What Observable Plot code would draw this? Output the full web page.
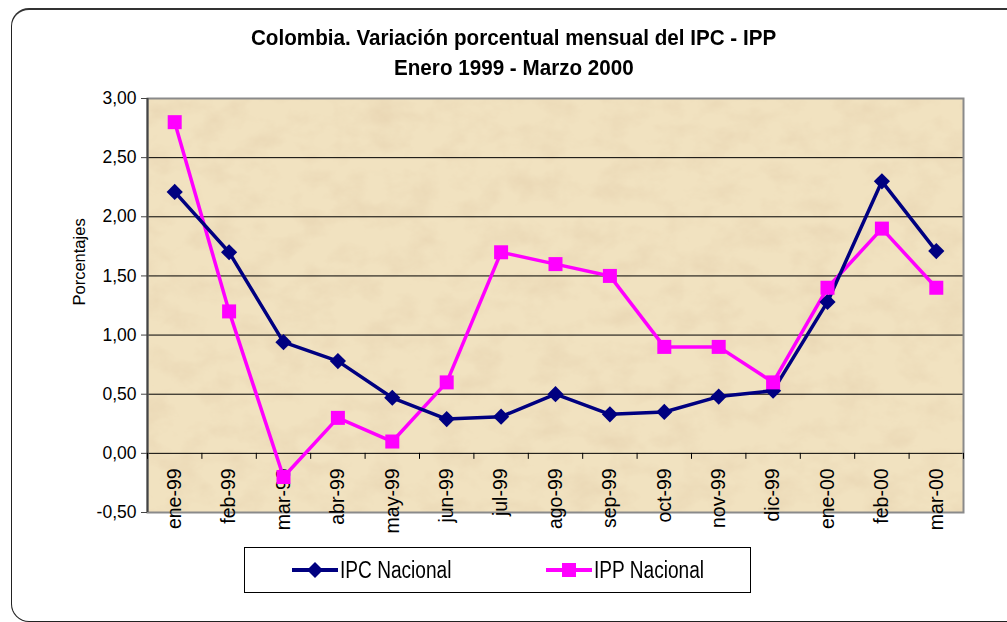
<!DOCTYPE html>
<html><head><meta charset="utf-8">
<script src="https://cdn.jsdelivr.net/npm/d3@7"></script>
<script src="https://cdn.jsdelivr.net/npm/@observablehq/plot@0.6"></script>
<style>
body{margin:0;background:#fff;font-family:"Liberation Sans",Arial,sans-serif;}
#wrap{position:relative;width:1007px;height:622px;overflow:hidden;background:#fff;}
#border{position:absolute;left:11px;top:8px;width:1010px;height:611px;border:1px solid #222;border-top:2px solid #333;border-radius:18px;}
.title{position:absolute;left:0;width:1027px;text-align:center;font-weight:bold;font-size:21.5px;color:#000;line-height:22px;}
.title span{display:inline-block;transform:scaleX(0.96);}
#chart{position:absolute;left:0;top:0;}
#legend{position:absolute;left:244px;top:547px;width:505px;height:44px;border:1px solid #000;background:#fff;font-size:23px;}
.item{position:absolute;top:0;height:44px;display:flex;align-items:center;white-space:nowrap;}
.item span{display:inline-block;transform:scaleX(0.83);transform-origin:left center;}
.item svg{margin-right:2px;}
</style></head>
<body>
<div id="wrap">
  <div id="border"></div>
  <div class="title" style="top:27px"><span>Colombia. Variación porcentual mensual del IPC - IPP</span></div>
  <div class="title" style="top:57px"><span>Enero 1999 - Marzo 2000</span></div>
  <div id="chart"></div>
  <div id="legend">
    <div class="item" style="left:47px"><svg width="46" height="20"><line x1="0" x2="46" y1="10" y2="10" stroke="#000080" stroke-width="4"/><path d="M23,2L31,10L23,18L15,10Z" fill="#000080"/></svg><span>IPC Nacional</span></div>
    <div class="item" style="left:301px"><svg width="46" height="20"><line x1="0" x2="46" y1="10" y2="10" stroke="#ff00ff" stroke-width="4"/><rect x="16" y="3" width="14" height="14" fill="#ff00ff"/></svg><span>IPP Nacional</span></div>
  </div>
</div>
<script>
const months = ["ene-99","feb-99","mar-99","abr-99","may-99","jun-99","jul-99","ago-99","sep-99","oct-99","nov-99","dic-99","ene-00","feb-00","mar-00"];
const ipc = [2.21,1.70,0.94,0.78,0.47,0.29,0.31,0.50,0.33,0.35,0.48,0.53,1.28,2.30,1.71];
const ipp = [2.80,1.20,-0.20,0.30,0.10,0.60,1.70,1.60,1.50,0.90,0.90,0.60,1.40,1.90,1.40];
const yTicks = [-0.5,0,0.5,1,1.5,2,2.5,3];

const ipcData = months.map((m,i)=>({i, m, v: ipc[i]}));
const ippData = months.map((m,i)=>({i, m, v: ipp[i]}));
const bounds = d3.range(-0.5, months.length, 1);
const fmt = d => d.toFixed(2).replace(".", ",");

const chart = Plot.plot({
  width: 1007, height: 540,
  marginLeft: 147, marginRight: 44, marginTop: 98, marginBottom: 28,
  style: {fontFamily: "Liberation Sans, Arial, sans-serif", background: "transparent", color: "#000"},
  x: {domain: [-0.5, months.length - 0.5], axis: null},
  y: {domain: [-0.5, 3], ticks: yTicks, tickFormat: fmt, label: null, axis: null},
  marks: [
    Plot.frame({fill: "#f1e2c0", stroke: null}),
    Plot.frame({fill: "#d2b07a", stroke: null}),
    Plot.ruleY(yTicks.filter(t => t > -0.5 && t < 3), {stroke: "#000", strokeWidth: 1}),
    Plot.frame({stroke: "#8a8a8a", strokeWidth: 2}),
    Plot.ruleX([-0.5], {stroke: "#444", strokeWidth: 2}),
    Plot.ruleX(bounds, {x: d => d, y1: 0, y2: 0, insetBottom: -6, stroke: "#000"}),
    Plot.axisY({ticks: yTicks, tickFormat: fmt, tickSize: 6, tickPadding: 5, fontSize: 17.5, stroke: "#444", label: null}),
    Plot.text(["Porcentajes"], {frameAnchor: "left", rotate: -90, dx: -68, fontSize: 16.5}),
    Plot.text(months, {x: (d,i) => i, y: () => 0, text: d => d, rotate: -90, textAnchor: "end", dy: 15, fontSize: 19.5}),
    Plot.line(ippData, {x: "i", y: "v", stroke: "#ff00ff", strokeWidth: 3.5}),
    Plot.line(ipcData, {x: "i", y: "v", stroke: "#000080", strokeWidth: 3.5}),
    Plot.dot(ipcData, {x: "i", y: "v", symbol: "diamond2", r: 7.3, fill: "#000080", stroke: null}),
    Plot.dot(ippData, {x: "i", y: "v", symbol: "square", r: 7.9, fill: "#ff00ff", stroke: null})
  ]
});
document.getElementById("chart").appendChild(chart);

// parchment texture
const svg = chart.tagName.toLowerCase() === "svg" ? chart : chart.querySelector("svg");
const ns = "http://www.w3.org/2000/svg";
const defs = document.createElementNS(ns, "defs");
defs.innerHTML = `<filter id="parch" x="0" y="0" width="100%" height="100%">
  <feTurbulence type="fractalNoise" baseFrequency="0.03 0.04" numOctaves="5" seed="11" result="n"/>
  <feColorMatrix in="n" type="matrix" values="0 0 0 0 0.82  0 0 0 0 0.68  0 0 0 0 0.46  1.8 0 0 0 -0.75"/>
</filter>`;
svg.insertBefore(defs, svg.firstChild);
const frames = svg.querySelectorAll('[aria-label="frame"]');
const f2 = frames[1].tagName === "rect" ? frames[1] : frames[1].querySelector("rect");
f2.setAttribute("filter", "url(#parch)");
</script>
</body></html>
